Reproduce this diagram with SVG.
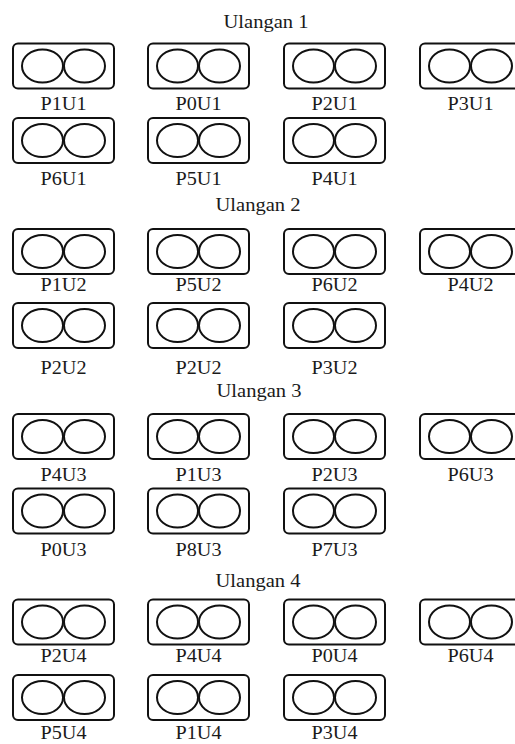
<svg xmlns="http://www.w3.org/2000/svg" width="515" height="744" viewBox="0 0 515 744">
  <style>
    .box { fill: #fff; stroke: #111; stroke-width: 2; }
    .hole { fill: none; stroke: #111; stroke-width: 2; }
    .lbl { font-family: "Liberation Serif", "Times New Roman", serif; font-size: 18px; fill: #1a1a1a; text-anchor: middle; }
    .ttl { font-family: "Liberation Serif", "Times New Roman", serif; font-size: 18px; fill: #1a1a1a; text-anchor: middle; }
  </style>
  <defs>
    <!-- one pot tray: rounded frame with two planting holes -->
    <g id="tray">
      <rect class="box" x="0" y="0" width="101" height="45" rx="5"/>
      <ellipse class="hole" cx="29.5" cy="22.5" rx="20.5" ry="16.5"/>
      <ellipse class="hole" cx="71.5" cy="22.5" rx="20.5" ry="16.5"/>
    </g>
  </defs>
  <rect width="515" height="744" fill="#fff"/>

  <!-- Ulangan 1 -->
  <g id="rep1">
    <text class="ttl" x="266" y="28" textLength="85" lengthAdjust="spacingAndGlyphs">Ulangan 1</text>
    <g id="P1U1"><use href="#tray" x="13" y="43.5"/><text class="lbl" x="63.5" y="110" textLength="46" lengthAdjust="spacingAndGlyphs">P1U1</text></g>
    <g id="P0U1"><use href="#tray" x="148" y="43.5"/><text class="lbl" x="198.5" y="110" textLength="46" lengthAdjust="spacingAndGlyphs">P0U1</text></g>
    <g id="P2U1"><use href="#tray" x="284" y="43.5"/><text class="lbl" x="334.5" y="110" textLength="46" lengthAdjust="spacingAndGlyphs">P2U1</text></g>
    <g id="P3U1"><use href="#tray" x="420" y="43.5"/><text class="lbl" x="470.5" y="110" textLength="46" lengthAdjust="spacingAndGlyphs">P3U1</text></g>
    <g id="P6U1"><use href="#tray" x="13" y="118"/><text class="lbl" x="63.5" y="185" textLength="46" lengthAdjust="spacingAndGlyphs">P6U1</text></g>
    <g id="P5U1"><use href="#tray" x="148" y="118"/><text class="lbl" x="198.5" y="185" textLength="46" lengthAdjust="spacingAndGlyphs">P5U1</text></g>
    <g id="P4U1"><use href="#tray" x="284" y="118"/><text class="lbl" x="334.5" y="185" textLength="46" lengthAdjust="spacingAndGlyphs">P4U1</text></g>
  </g>

  <!-- Ulangan 2 -->
  <g id="rep2">
    <text class="ttl" x="258" y="211" textLength="85" lengthAdjust="spacingAndGlyphs">Ulangan 2</text>
    <g id="P1U2"><use href="#tray" x="13" y="229"/><text class="lbl" x="63.5" y="291" textLength="46" lengthAdjust="spacingAndGlyphs">P1U2</text></g>
    <g id="P5U2"><use href="#tray" x="148" y="229"/><text class="lbl" x="198.5" y="291" textLength="46" lengthAdjust="spacingAndGlyphs">P5U2</text></g>
    <g id="P6U2"><use href="#tray" x="284" y="229"/><text class="lbl" x="334.5" y="291" textLength="46" lengthAdjust="spacingAndGlyphs">P6U2</text></g>
    <g id="P4U2"><use href="#tray" x="420" y="229"/><text class="lbl" x="470.5" y="291" textLength="46" lengthAdjust="spacingAndGlyphs">P4U2</text></g>
    <g id="P2U2a"><use href="#tray" x="13" y="303"/><text class="lbl" x="63.5" y="374" textLength="46" lengthAdjust="spacingAndGlyphs">P2U2</text></g>
    <g id="P2U2b"><use href="#tray" x="148" y="303"/><text class="lbl" x="198.5" y="374" textLength="46" lengthAdjust="spacingAndGlyphs">P2U2</text></g>
    <g id="P3U2"><use href="#tray" x="284" y="303"/><text class="lbl" x="334.5" y="374" textLength="46" lengthAdjust="spacingAndGlyphs">P3U2</text></g>
  </g>

  <!-- Ulangan 3 -->
  <g id="rep3">
    <text class="ttl" x="259" y="397" textLength="85" lengthAdjust="spacingAndGlyphs">Ulangan 3</text>
    <g id="P4U3"><use href="#tray" x="13" y="414"/><text class="lbl" x="63.5" y="481" textLength="46" lengthAdjust="spacingAndGlyphs">P4U3</text></g>
    <g id="P1U3"><use href="#tray" x="148" y="414"/><text class="lbl" x="198.5" y="481" textLength="46" lengthAdjust="spacingAndGlyphs">P1U3</text></g>
    <g id="P2U3"><use href="#tray" x="284" y="414"/><text class="lbl" x="334.5" y="481" textLength="46" lengthAdjust="spacingAndGlyphs">P2U3</text></g>
    <g id="P6U3"><use href="#tray" x="420" y="414"/><text class="lbl" x="470.5" y="481" textLength="46" lengthAdjust="spacingAndGlyphs">P6U3</text></g>
    <g id="P0U3"><use href="#tray" x="13" y="488.5"/><text class="lbl" x="63.5" y="556" textLength="46" lengthAdjust="spacingAndGlyphs">P0U3</text></g>
    <g id="P8U3"><use href="#tray" x="148" y="488.5"/><text class="lbl" x="198.5" y="556" textLength="46" lengthAdjust="spacingAndGlyphs">P8U3</text></g>
    <g id="P7U3"><use href="#tray" x="284" y="488.5"/><text class="lbl" x="334.5" y="556" textLength="46" lengthAdjust="spacingAndGlyphs">P7U3</text></g>
  </g>

  <!-- Ulangan 4 -->
  <g id="rep4">
    <text class="ttl" x="258" y="587" textLength="85" lengthAdjust="spacingAndGlyphs">Ulangan 4</text>
    <g id="P2U4"><use href="#tray" x="13" y="599.5"/><text class="lbl" x="63.5" y="662" textLength="46" lengthAdjust="spacingAndGlyphs">P2U4</text></g>
    <g id="P4U4"><use href="#tray" x="148" y="599.5"/><text class="lbl" x="198.5" y="662" textLength="46" lengthAdjust="spacingAndGlyphs">P4U4</text></g>
    <g id="P0U4"><use href="#tray" x="284" y="599.5"/><text class="lbl" x="334.5" y="662" textLength="46" lengthAdjust="spacingAndGlyphs">P0U4</text></g>
    <g id="P6U4"><use href="#tray" x="420" y="599.5"/><text class="lbl" x="470.5" y="662" textLength="46" lengthAdjust="spacingAndGlyphs">P6U4</text></g>
    <g id="P5U4"><use href="#tray" x="13" y="675"/><text class="lbl" x="63.5" y="739" textLength="46" lengthAdjust="spacingAndGlyphs">P5U4</text></g>
    <g id="P1U4"><use href="#tray" x="148" y="675"/><text class="lbl" x="198.5" y="739" textLength="46" lengthAdjust="spacingAndGlyphs">P1U4</text></g>
    <g id="P3U4"><use href="#tray" x="284" y="675"/><text class="lbl" x="334.5" y="739" textLength="46" lengthAdjust="spacingAndGlyphs">P3U4</text></g>
  </g>

  <!-- no connectors in this layout -->
  <g id="connectors"/>
</svg>
